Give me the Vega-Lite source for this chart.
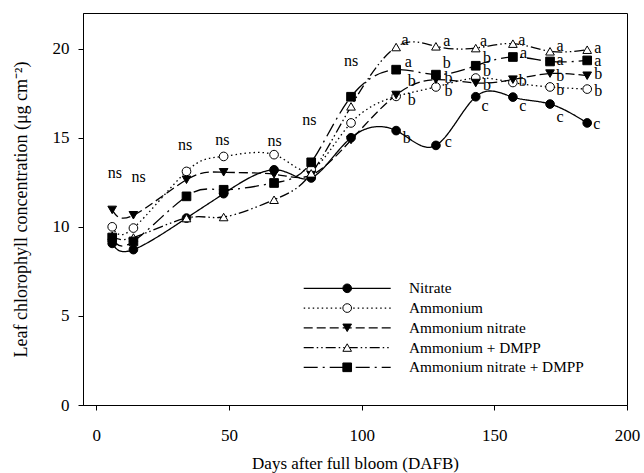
{
  "$schema": "https://vega.github.io/schema/vega-lite/v6.json",
  "width": 544,
  "height": 392,
  "autosize": {"type": "none"},
  "padding": {"left": 83, "top": 13, "right": 17, "bottom": 68},
  "background": "white",
  "config": {
    "view": {"stroke": "black", "strokeWidth": 1},
    "axis": {"grid": false, "domainColor": "black", "tickColor": "black", "labelColor": "black", "titleColor": "black", "labelFont": "Liberation Serif", "titleFont": "Liberation Serif", "labelFontSize": 17, "titleFontSize": 17, "titleFontWeight": "normal", "tickSize": 5, "domainWidth": 1, "tickWidth": 1}
  },
  "datasets": {
    "pts": [
      {"series": "Nitrate", "day": 6, "value": 9.07},
      {"series": "Nitrate", "day": 14, "value": 8.72},
      {"series": "Nitrate", "day": 34, "value": 10.49},
      {"series": "Nitrate", "day": 48, "value": 11.86},
      {"series": "Nitrate", "day": 67, "value": 13.2},
      {"series": "Nitrate", "day": 81, "value": 12.74},
      {"series": "Nitrate", "day": 96, "value": 15.0},
      {"series": "Nitrate", "day": 113, "value": 15.4},
      {"series": "Nitrate", "day": 128, "value": 14.57},
      {"series": "Nitrate", "day": 143, "value": 17.3},
      {"series": "Nitrate", "day": 157, "value": 17.28},
      {"series": "Nitrate", "day": 171, "value": 16.89},
      {"series": "Nitrate", "day": 185, "value": 15.83},
      {"series": "Ammonium", "day": 6, "value": 10.0},
      {"series": "Ammonium", "day": 14, "value": 9.93},
      {"series": "Ammonium", "day": 34, "value": 13.11},
      {"series": "Ammonium", "day": 48, "value": 13.95},
      {"series": "Ammonium", "day": 67, "value": 14.05},
      {"series": "Ammonium", "day": 81, "value": 13.2},
      {"series": "Ammonium", "day": 96, "value": 15.83},
      {"series": "Ammonium", "day": 113, "value": 17.32},
      {"series": "Ammonium", "day": 128, "value": 17.85},
      {"series": "Ammonium", "day": 143, "value": 18.35},
      {"series": "Ammonium", "day": 157, "value": 18.1},
      {"series": "Ammonium", "day": 171, "value": 17.85},
      {"series": "Ammonium", "day": 185, "value": 17.73},
      {"series": "Ammonium nitrate", "day": 6, "value": 10.95},
      {"series": "Ammonium nitrate", "day": 14, "value": 10.65},
      {"series": "Ammonium nitrate", "day": 34, "value": 12.64},
      {"series": "Ammonium nitrate", "day": 48, "value": 13.06},
      {"series": "Ammonium nitrate", "day": 67, "value": 12.95},
      {"series": "Ammonium nitrate", "day": 81, "value": 12.9},
      {"series": "Ammonium nitrate", "day": 96, "value": 14.87},
      {"series": "Ammonium nitrate", "day": 113, "value": 17.4},
      {"series": "Ammonium nitrate", "day": 128, "value": 18.26},
      {"series": "Ammonium nitrate", "day": 143, "value": 18.07},
      {"series": "Ammonium nitrate", "day": 157, "value": 18.26},
      {"series": "Ammonium nitrate", "day": 171, "value": 18.6},
      {"series": "Ammonium nitrate", "day": 185, "value": 18.48},
      {"series": "Ammonium + DMPP", "day": 6, "value": 9.5},
      {"series": "Ammonium + DMPP", "day": 14, "value": 9.4},
      {"series": "Ammonium + DMPP", "day": 34, "value": 10.49},
      {"series": "Ammonium + DMPP", "day": 48, "value": 10.55},
      {"series": "Ammonium + DMPP", "day": 67, "value": 11.52},
      {"series": "Ammonium + DMPP", "day": 81, "value": 13.0},
      {"series": "Ammonium + DMPP", "day": 96, "value": 16.76},
      {"series": "Ammonium + DMPP", "day": 113, "value": 20.09},
      {"series": "Ammonium + DMPP", "day": 128, "value": 20.13},
      {"series": "Ammonium + DMPP", "day": 143, "value": 20.03},
      {"series": "Ammonium + DMPP", "day": 157, "value": 20.28},
      {"series": "Ammonium + DMPP", "day": 171, "value": 19.85},
      {"series": "Ammonium + DMPP", "day": 185, "value": 19.94},
      {"series": "Ammonium nitrate + DMPP", "day": 6, "value": 9.4},
      {"series": "Ammonium nitrate + DMPP", "day": 14, "value": 9.18},
      {"series": "Ammonium nitrate + DMPP", "day": 34, "value": 11.71},
      {"series": "Ammonium nitrate + DMPP", "day": 48, "value": 12.08},
      {"series": "Ammonium nitrate + DMPP", "day": 67, "value": 12.46},
      {"series": "Ammonium nitrate + DMPP", "day": 81, "value": 13.62},
      {"series": "Ammonium nitrate + DMPP", "day": 96, "value": 17.3},
      {"series": "Ammonium nitrate + DMPP", "day": 113, "value": 18.82},
      {"series": "Ammonium nitrate + DMPP", "day": 128, "value": 18.54},
      {"series": "Ammonium nitrate + DMPP", "day": 143, "value": 19.04},
      {"series": "Ammonium nitrate + DMPP", "day": 157, "value": 19.53},
      {"series": "Ammonium nitrate + DMPP", "day": 171, "value": 19.28},
      {"series": "Ammonium nitrate + DMPP", "day": 185, "value": 19.34}
    ],
    "labels": [
      {"day": 7, "value": 13.0, "text": "ns"},
      {"day": 16, "value": 12.8, "text": "ns"},
      {"day": 33.5, "value": 14.6, "text": "ns"},
      {"day": 47.5, "value": 14.87, "text": "ns"},
      {"day": 67.2, "value": 14.8, "text": "ns"},
      {"day": 80.3, "value": 15.97, "text": "ns"},
      {"day": 96, "value": 19.29, "text": "ns"},
      {"day": 116.4, "value": 20.5, "text": "a"},
      {"day": 132.1, "value": 20.41, "text": "a"},
      {"day": 145.9, "value": 20.41, "text": "a"},
      {"day": 160.4, "value": 20.5, "text": "a"},
      {"day": 174.8, "value": 20.17, "text": "a"},
      {"day": 189.0, "value": 20.04, "text": "a"},
      {"day": 117.6, "value": 19.25, "text": "a"},
      {"day": 132.1, "value": 19.19, "text": "b"},
      {"day": 147.2, "value": 19.47, "text": "b"},
      {"day": 161.0, "value": 19.75, "text": "a"},
      {"day": 174.8, "value": 19.38, "text": "a"},
      {"day": 189.0, "value": 19.28, "text": "a"},
      {"day": 118.9, "value": 18.16, "text": "b"},
      {"day": 132.7, "value": 18.35, "text": "b"},
      {"day": 147.2, "value": 18.72, "text": "b"},
      {"day": 160.7, "value": 18.16, "text": "b"},
      {"day": 174.8, "value": 18.44, "text": "b"},
      {"day": 189.2, "value": 18.58, "text": "b"},
      {"day": 118.9, "value": 17.13, "text": "b"},
      {"day": 132.7, "value": 17.6, "text": "b"},
      {"day": 147.2, "value": 17.98, "text": "b"},
      {"day": 174.8, "value": 17.66, "text": "b"},
      {"day": 189.2, "value": 17.6, "text": "b"},
      {"day": 117.0, "value": 14.98, "text": "b"},
      {"day": 132.7, "value": 14.74, "text": "c"},
      {"day": 146.5, "value": 16.8, "text": "c"},
      {"day": 160.7, "value": 16.8, "text": "c"},
      {"day": 174.8, "value": 16.16, "text": "c"},
      {"day": 188.6, "value": 15.77, "text": "c"}
    ]
  },
  "encoding": {
    "x": {"field": "day", "type": "quantitative", "scale": {"domain": [-5, 200], "nice": false, "zero": false},
      "axis": {"values": [0, 50, 100, 150, 200], "labelPadding": 17, "title": "Days after full bloom (DAFB)", "titleY": 58, "titleBaseline": "middle", "labelFlush": false, "labelOverlap": false}},
    "y": {"field": "value", "type": "quantitative", "scale": {"domain": [0, 22], "nice": false, "zero": false},
      "axis": {"values": [0, 5, 10, 15, 20], "labelPadding": 9, "title": "Leaf chlorophyll concentration (μg cm⁻²)", "titleFontSize": 18, "titleX": -62, "titleBaseline": "middle", "labelFlush": false, "labelOverlap": false}}
  },
  "layer": [
    {
      "data": {"name": "pts"},
      "mark": {"type": "line", "interpolate": "natural", "stroke": "black", "strokeWidth": 1.3},
      "encoding": {
        "strokeDash": {"field": "series", "type": "nominal",
          "sort": ["Nitrate", "Ammonium", "Ammonium nitrate", "Ammonium + DMPP", "Ammonium nitrate + DMPP"],
          "scale": {"range": [[1, 0], [1.5, 3], [9, 4], [10, 3, 1.5, 3, 1.5, 3], [14, 5, 2, 5]]},
          "legend": {"orient": "none", "legendX": 219.7, "legendY": 266.3, "direction": "vertical", "title": null, "symbolType": "stroke", "symbolSize": 7569, "symbolStrokeWidth": 1.3, "symbolStrokeColor": "black", "symbolOffset": 0, "clipHeight": 18, "labelOffset": 17.3, "rowPadding": 1.75, "padding": 0, "labelFont": "Liberation Serif", "labelFontSize": 15.3, "labelColor": "black", "labelLimit": 0}}
      }
    },
    {
      "data": {"name": "pts"},
      "mark": {"type": "point", "filled": false, "size": 75, "strokeWidth": 1, "opacity": 1},
      "encoding": {
        "shape": {"field": "series", "type": "nominal",
          "scale": {"domain": ["Nitrate", "Ammonium", "Ammonium nitrate", "Ammonium + DMPP", "Ammonium nitrate + DMPP"],
            "range": ["circle", "circle", "triangle-down", "triangle-up", "square"]},
          "legend": {"orient": "none", "legendX": 219.7, "legendY": 266.3, "direction": "vertical", "title": null, "symbolSize": 75, "symbolStrokeWidth": 1, "symbolOffset": 36.5, "clipHeight": 18, "labelOffset": 17.3, "rowPadding": 1.75, "padding": 0, "labelFont": "Liberation Serif", "labelFontSize": 16, "labelColor": "transparent", "labelExpr": "''", "labelLimit": 0}},
        "fill": {"field": "series", "type": "nominal",
          "scale": {"domain": ["Nitrate", "Ammonium", "Ammonium nitrate", "Ammonium + DMPP", "Ammonium nitrate + DMPP"],
            "range": ["black", "white", "black", "white", "black"]},
          "legend": {"orient": "none", "legendX": 219.7, "legendY": 266.3, "direction": "vertical", "title": null, "symbolSize": 75, "symbolStrokeWidth": 1, "symbolOffset": 36.5, "clipHeight": 18, "labelOffset": 17.3, "rowPadding": 1.75, "padding": 0, "labelFont": "Liberation Serif", "labelFontSize": 16, "labelColor": "transparent", "labelExpr": "''", "labelLimit": 0}},
        "stroke": {"field": "series", "type": "nominal",
          "scale": {"domain": ["Nitrate", "Ammonium", "Ammonium nitrate", "Ammonium + DMPP", "Ammonium nitrate + DMPP"],
            "range": ["black", "black", "black", "black", "black"]},
          "legend": {"orient": "none", "legendX": 219.7, "legendY": 266.3, "direction": "vertical", "title": null, "symbolSize": 75, "symbolStrokeWidth": 1, "symbolOffset": 36.5, "clipHeight": 18, "labelOffset": 17.3, "rowPadding": 1.75, "padding": 0, "labelFont": "Liberation Serif", "labelFontSize": 16, "labelColor": "transparent", "labelExpr": "''", "labelLimit": 0}}
      }
    },
    {
      "data": {"name": "labels"},
      "mark": {"type": "text", "font": "Liberation Serif", "fontSize": 16, "fill": "black", "align": "center", "baseline": "middle"},
      "encoding": {"text": {"field": "text"}}
    }
  ]
}
